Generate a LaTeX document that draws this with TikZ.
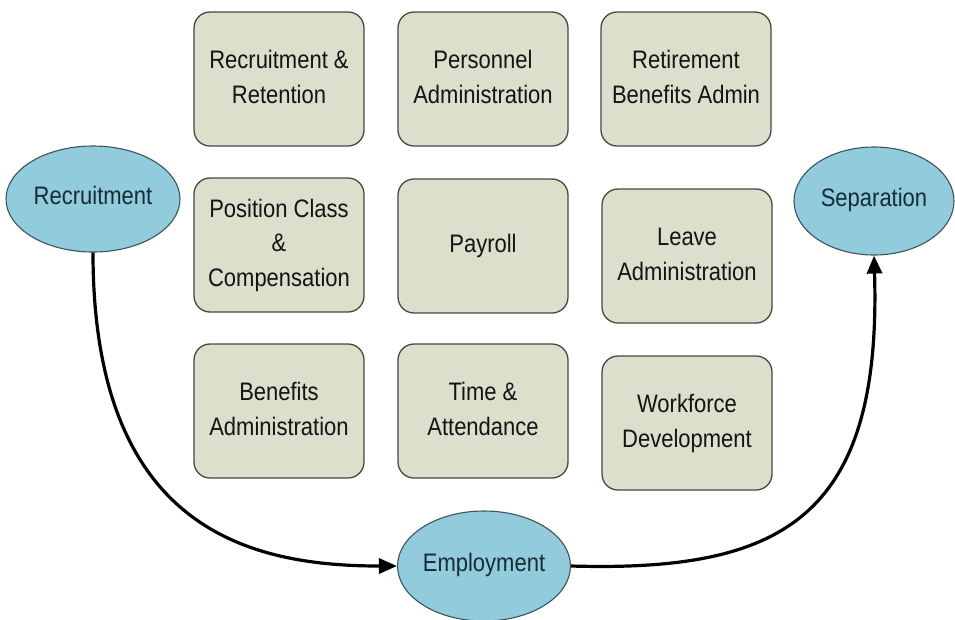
\documentclass[tikz,border=0pt]{standalone}
\usepackage{fontspec}
\setmainfont{Liberation Sans}
\usetikzlibrary{shapes.geometric,arrows.meta}
\definecolor{boxfill}{RGB}{221,223,204}
\definecolor{boxline}{RGB}{70,72,66}
\definecolor{ovalfill}{RGB}{146,203,219}
\definecolor{ovalline}{RGB}{60,84,92}
\definecolor{ovaltext}{RGB}{20,44,54}
% label text, slightly stretched vertically
\newcommand{\lbl}[1]{\scalebox{1}[1.15]{\begin{tabular}{@{}c@{}}#1\end{tabular}}}
\begin{document}
\begin{tikzpicture}[x=1pt,y=-1pt,
  area/.style={draw=boxline,line width=1.3pt,fill=boxfill,rounded corners=16pt,
    minimum width=170pt,minimum height=134pt,align=center,
    font=\fontsize{22}{30}\selectfont,text=black!92},
  stage/.style={ellipse,draw=ovalline,line width=1.1pt,fill=ovalfill,
    font=\fontsize{22}{26}\selectfont,text=ovaltext,inner sep=0pt},
  flow/.style={line width=3.2pt,-{Triangle[length=18pt,width=15pt]}}]
\useasboundingbox (0,0) rectangle (955,619);
% activity boxes
\node[area] (rr)  at (279,79)  {\lbl{Recruitment \&\\Retention}};
\node[area] (pa)  at (483,79)  {\lbl{Personnel\\Administration}};
\node[area] (rb)  at (686,79)  {\lbl{Retirement\\Benefits Admin}};
\node[area] (pc)  at (279,245) {\lbl{Position Class\\\&\\Compensation}};
\node[area] (pay) at (483,246) {\lbl{Payroll}};
\node[area] (la)  at (687,256) {\lbl{Leave\\Administration}};
\node[area] (ba)  at (279,411) {\lbl{Benefits\\Administration}};
\node[area] (ta)  at (483,411) {\lbl{Time \&\\Attendance}};
\node[area] (wd)  at (687,423) {\lbl{Workforce\\Development}};
% life-cycle stages
\node[stage,minimum width=174pt,minimum height=106pt] (rec) at (93,199) {\lbl{Recruitment}};
\node[stage,minimum width=160pt,minimum height=108pt] (sep) at (874,201) {\lbl{Separation}};
\node[stage,minimum width=172pt,minimum height=110pt] (emp) at (484,566) {\lbl{Employment}};
% transitions
\draw[flow] (rec.south) .. controls (93,530) and (250,566) .. (emp.west);
\draw[flow] (emp.east) .. controls (780,572) and (882,520) .. (sep.south);
\end{tikzpicture}
\end{document}
